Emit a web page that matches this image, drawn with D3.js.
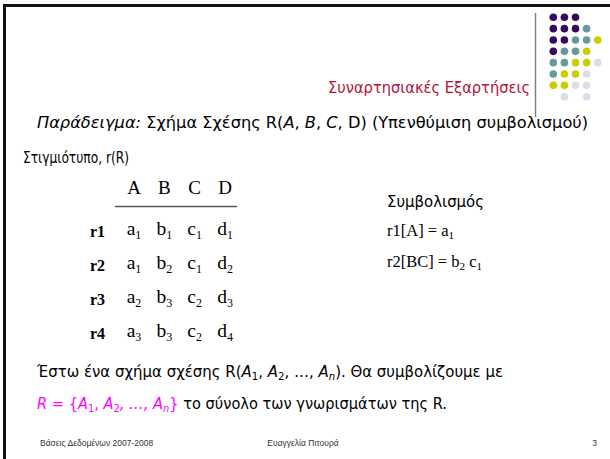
<!doctype html>
<html lang="el">
<head>
<meta charset="utf-8">
<style>
  html, body { margin: 0; padding: 0; background: #fff; }
  svg { display: block; }
</style>
</head>
<body>
<div id="slide"></div>
<script src="https://cdn.jsdelivr.net/npm/d3@7/dist/d3.min.js"></script>
<script>
  // slide data
  var title = "Συναρτησιακές Εξαρτήσεις";
  var headers = ["A", "B", "C", "D"];
  var rowLabels = ["r1", "r2", "r3", "r4"];
  var tupleSubs = [[1, 1, 1, 1], [1, 2, 1, 2], [2, 3, 2, 3], [3, 3, 2, 4]];
  var notationTitle = "Συμβολισμός";
  var notation = [
    [["r1[A] = a", ""], ["1", "s"]],
    [["r2[BC] = b", ""], ["2", "s"], [" c", ""], ["1", "s"]]
  ];
  var footer = ["Βάσεις Δεδομένων 2007-2008", "Ευαγγελία Πιτουρά", "3"];
  // logo dots: P purple, T teal, Y yellow, L lavender
  var dotRows = ["PPP..", "PPPT.", "PPTTY", "PTTY.", "TTYYL", "TYYL.", "YYLL.", ".L.L."];
  var dotColors = {P: "#34095f", T: "#669a9a", Y: "#cccc00", L: "#dcdcec"};

  var width = 610, height = 459;
  var bodyFont = "'DejaVu Sans', sans-serif";
  var serif = "'Liberation Serif', 'Times New Roman', serif";

  var svg = d3.select("#slide").append("svg")
    .attr("width", width)
    .attr("height", height);

  // frame
  svg.append("rect").attr("x", 3).attr("y", 4).attr("width", width - 3).attr("height", 3).attr("fill", "#111");
  svg.append("rect").attr("x", 3).attr("y", 4).attr("width", 3).attr("height", height - 4).attr("fill", "#111");

  // logo
  var dx = d3.scaleLinear().domain([0, 4]).range([553.3, 597.7]);
  var dy = d3.scaleLinear().domain([0, 7]).range([17.3, 96.7]);
  var dots = [];
  dotRows.forEach(function(row, r) {
    row.split("").forEach(function(c, k) {
      if (c !== ".") dots.push({r: r, k: k, c: c});
    });
  });
  svg.append("g").selectAll("circle").data(dots).enter()
    .append("circle")
    .attr("cx", function(d) { return dx(d.k); })
    .attr("cy", function(d) { return dy(d.r); })
    .attr("r", 3.8)
    .attr("fill", function(d) { return dotColors[d.c]; });

  svg.append("line")
    .attr("x1", 535.5).attr("x2", 535.5).attr("y1", 13).attr("y2", 117)
    .attr("stroke", "#808080").attr("stroke-width", 1.5);

  svg.append("text")
    .attr("x", 530).attr("y", 93)
    .attr("text-anchor", "end")
    .attr("font-family", bodyFont).attr("font-size", 15.5)
    .attr("fill", "#b3123c")
    .attr("textLength", 202).attr("lengthAdjust", "spacingAndGlyphs")
    .text(title);

  // helper: text made of [string, flags] parts (i italic, m magenta, s subscript)
  function rich(t, parts, size, subSize) {
    var off = 0;
    parts.forEach(function(p) {
      var target = p[1].indexOf("s") >= 0 ? 3 : 0;
      var s = t.append("tspan").text(p[0]);
      if (target !== off) s.attr("dy", target - off);
      off = target;
      if (target) s.attr("font-size", subSize);
      if (p[1].indexOf("i") >= 0) s.attr("font-style", "italic");
      if (p[1].indexOf("m") >= 0) s.attr("fill", "#ff00ff");
    });
    return t;
  }

  function line(x, y, parts, size, len) {
    var t = svg.append("text")
      .attr("x", x).attr("y", y)
      .attr("font-family", bodyFont).attr("font-size", size)
      .attr("fill", "#000");
    if (len) t.attr("textLength", len).attr("lengthAdjust", "spacingAndGlyphs");
    return rich(t, parts, size, size * 0.68);
  }

  line(37, 128, [["Παράδειγμα:", "i"], [" Σχήμα Σχέσης R(", ""], ["A", "i"], [", ", ""], ["B", "i"], [", ", ""], ["C", "i"], [", D) (Υπενθύμιση συμβολισμού)", ""]], 15, 551);
  line(23, 163, [["Στιγμιότυπο, r(R)", ""]], 15, 106);

  line(37, 377, [["Έστω ένα σχήμα σχέσης R(", ""], ["A", "i"], ["1", "s"], [", ", ""], ["A", "i"], ["2", "s"],
    [", …, ", ""], ["A", "i"], ["n", "is"], [").  Θα συμβολίζουμε με", ""]], 15, 466);
  line(37, 409, [["R", "im"], [" = {", "m"], ["A", "im"], ["1", "ms"], [", ", "m"], ["A", "im"], ["2", "ms"],
    [", …, ", "im"], ["A", "im"], ["n", "ims"], ["}", "m"], [" το σύνολο των γνωρισμάτων της R.", ""]], 15, 410);

  // relation instance table
  var colX = d3.scalePoint().domain(headers).range([134, 225]);
  var rowY = d3.scalePoint().domain(rowLabels).range([235, 337]);

  svg.append("g").selectAll("text").data(headers).enter()
    .append("text")
    .attr("x", function(d) { return colX(d); })
    .attr("y", 194)
    .attr("text-anchor", "middle")
    .attr("font-family", serif).attr("font-size", 19)
    .text(function(d) { return d; });

  svg.append("line")
    .attr("x1", 115).attr("x2", 237).attr("y1", 206.5).attr("y2", 206.5)
    .attr("stroke", "#555").attr("stroke-width", 1.5);

  svg.append("g").selectAll("text").data(rowLabels).enter()
    .append("text")
    .attr("x", 90)
    .attr("y", function(d) { return rowY(d) + 2; })
    .attr("font-family", serif).attr("font-size", 16).attr("font-weight", "bold")
    .text(function(d) { return d; });

  rowLabels.forEach(function(r, i) {
    var cells = svg.append("g").selectAll("text").data(headers).enter()
      .append("text")
      .attr("x", function(d) { return colX(d); })
      .attr("y", rowY(r))
      .attr("text-anchor", "middle")
      .attr("font-family", serif).attr("font-size", 19.5);
    cells.append("tspan").text(function(d) { return d.toLowerCase(); });
    cells.append("tspan").attr("font-size", 12).attr("dy", 4)
      .text(function(d, j) { return tupleSubs[i][j]; });
  });

  // notation
  svg.append("text")
    .attr("x", 387).attr("y", 207)
    .attr("font-family", bodyFont).attr("font-size", 15)
    .attr("textLength", 97).attr("lengthAdjust", "spacingAndGlyphs")
    .text(notationTitle);

  var notY = d3.scalePoint().domain([0, 1]).range([236, 267]);
  notation.forEach(function(parts, i) {
    var t = svg.append("text")
      .attr("x", 387).attr("y", notY(i))
      .attr("font-family", serif).attr("font-size", 16.5);
    rich(t, parts, 16.5, 11);
  });

  // footer
  var ft = svg.append("g")
    .attr("font-family", "'Liberation Sans', Arial, sans-serif")
    .attr("font-size", 8.5).attr("fill", "#333");
  ft.append("text").attr("x", 40).attr("y", 446).text(footer[0]);
  ft.append("text").attr("x", 303).attr("y", 446).attr("text-anchor", "middle").text(footer[1]);
  ft.append("text").attr("x", 597).attr("y", 446).attr("text-anchor", "end").text(footer[2]);
</script>
</body>
</html>
